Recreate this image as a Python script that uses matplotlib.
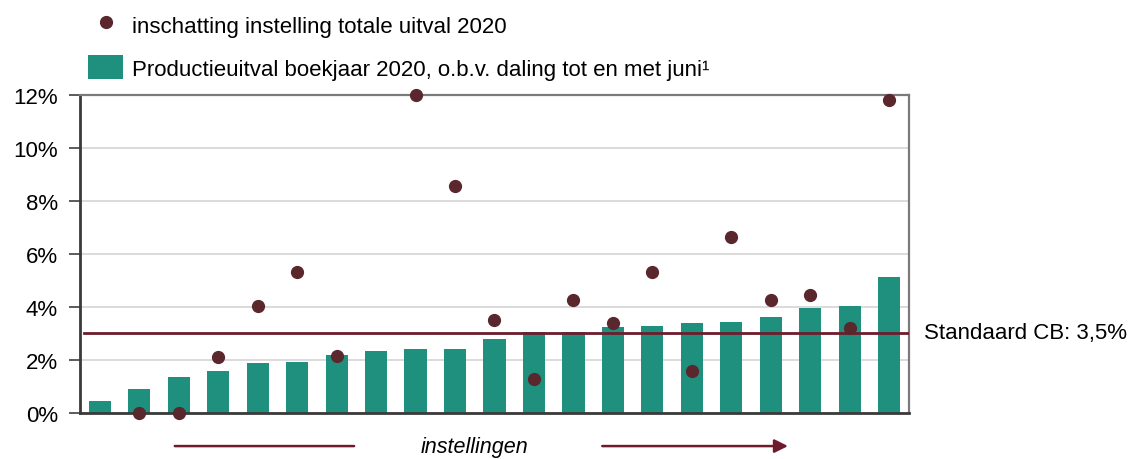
import numpy as np
import matplotlib.pyplot as plt
from matplotlib.lines import Line2D
from matplotlib.patches import Patch
from matplotlib.ticker import FuncFormatter, MultipleLocator

plt.rcParams["font.family"] = ["Liberation Sans", "DejaVu Sans"]

# productieuitval per instelling (%), gesorteerd
productieuitval = [0.47, 0.89, 1.37, 1.57, 1.87, 1.91, 2.19, 2.34, 2.43, 2.43, 2.78,
                   3.04, 3.04, 3.25, 3.30, 3.38, 3.43, 3.62, 3.95, 4.05, 5.13]
# inschatting totale uitval (%), nan = geen schatting
inschatting = [np.nan, 0.0, 0.0, 2.13, 4.04, 5.33, 2.14, np.nan, 12.0, 8.58, 3.52,
               1.27, 4.25, 3.41, 5.33, 1.58, 6.64, 4.25, 4.47, 3.22, 11.8]
standaard_cb = 3.03
standaard_label = "Standaard CB: 3,5%"

TEAL = "#1f8f7e"
DOT = "#5a272c"
LINE = "#6e1c2c"

x = np.arange(len(productieuitval))

fig = plt.figure(figsize=(11.43, 4.6), dpi=100)
ax = fig.add_axes([80 / 1143, 1 - 414 / 460, 829 / 1143, 318 / 460])

ax.bar(x, productieuitval, width=0.56, color=TEAL, zorder=2)
ax.plot(x, inschatting, "o", color=DOT, markersize=8.5, zorder=4, clip_on=False)
ax.axhline(standaard_cb, xmin=0.005, xmax=1.0, color=LINE, lw=2.0, zorder=3)

ax.set_xlim(-0.5, len(x) - 0.5)
ax.set_ylim(0, 12)
ax.yaxis.set_major_locator(MultipleLocator(2))
ax.yaxis.set_major_formatter(FuncFormatter(lambda v, p: f"{v:.0f}%"))
ax.set_xticks([])
ax.tick_params(axis="y", length=8, width=1.2, color="#404040", pad=8, labelsize=16)
ax.grid(axis="y", color="#d4d4d4", lw=1.2, zorder=0)
ax.set_axisbelow(True)

for side in ["left", "bottom"]:
    ax.spines[side].set_color("#3a3a3a")
    ax.spines[side].set_linewidth(2.0)
for side in ["top", "right"]:
    ax.spines[side].set_color("#7a7a7a")
    ax.spines[side].set_linewidth(1.6)

ax.text(1.018, standaard_cb, standaard_label, transform=ax.get_yaxis_transform(),
        ha="left", va="center", fontsize=16)

# legenda boven de grafiek
handles = [
    Line2D([], [], marker="o", linestyle="none", color=DOT, markersize=8.5),
    Patch(facecolor=TEAL, edgecolor="none"),
]
labels = ["inschatting instelling totale uitval 2020",
          "Productieuitval boekjaar 2020, o.b.v. daling tot en met juni¹"]
fig.legend(handles, labels, loc="upper left", bbox_to_anchor=(75 / 1143, 1.0),
           frameon=False, fontsize=16, handlelength=1.55, handleheight=1.25,
           handletextpad=0.4, labelspacing=0.85, borderaxespad=0.2)

# as-label met pijl
ax.annotate("", xy=(0.334, -0.104), xytext=(0.111, -0.104), xycoords="axes fraction",
            arrowprops=dict(arrowstyle="-", color=LINE, lw=1.8), annotation_clip=False)
ax.annotate("", xy=(0.854, -0.104), xytext=(0.630, -0.104), xycoords="axes fraction",
            arrowprops=dict(arrowstyle="-|>", color=LINE, lw=1.8, mutation_scale=20,
                            shrinkA=0, shrinkB=0), annotation_clip=False)
ax.text(0.4765, -0.104, "instellingen", transform=ax.transAxes, ha="center", va="center",
        fontsize=15.5, style="italic")

fig.savefig("out.png", dpi=100)
